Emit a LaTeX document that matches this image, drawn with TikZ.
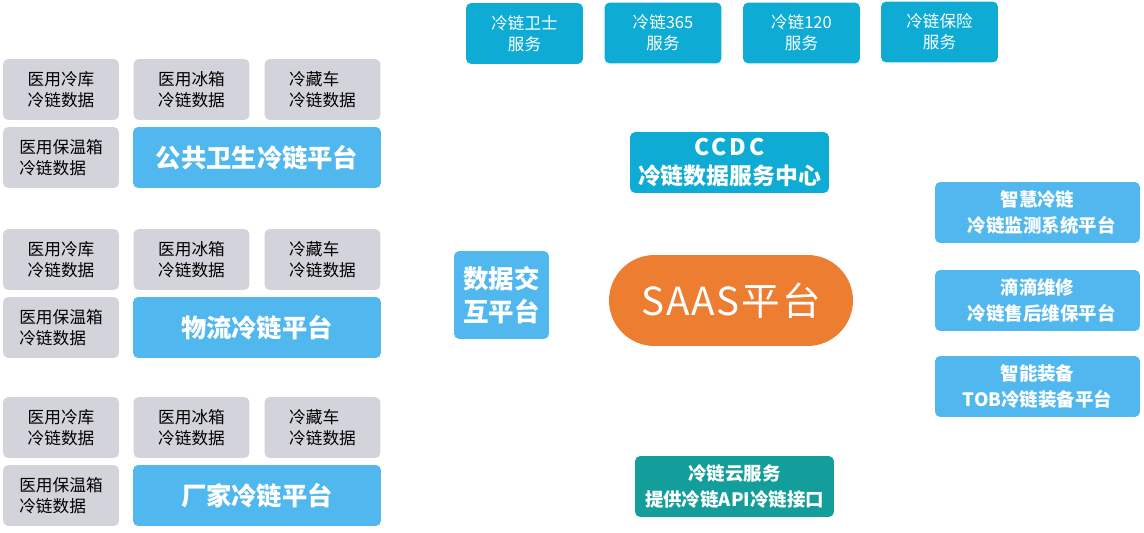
\documentclass[tikz,border=0pt]{standalone}
\usepackage{fontspec}
\setmainfont{Noto Sans CJK SC}
\definecolor{datagrey}{HTML}{D3D3DB}
\definecolor{platblue}{HTML}{50B8EE}
\definecolor{servcyan}{HTML}{0EACD4}
\definecolor{cloudteal}{HTML}{139E9B}
\definecolor{saasorange}{HTML}{ED7D31}
\begin{document}
\begin{tikzpicture}[x=0.02cm, y=-0.02cm]
    \tikzset{box/.style={rectangle, rounded corners=3pt, inner sep=0pt, align=center}}
    \tikzset{data/.style={box, fill=datagrey, text=black, align=left, font=\fontsize{9.5}{12}\selectfont,
        minimum width=2.32cm, minimum height=1.22cm}}
    \tikzset{plat/.style={box, fill=platblue, text=white, font=\fontsize{14.4}{17}\selectfont\bfseries,
        minimum width=4.96cm, minimum height=1.22cm}}
    \tikzset{serv/.style={box, fill=servcyan, text=white, font=\fontsize{9.4}{12}\selectfont,
        minimum width=2.34cm, minimum height=1.22cm}}
    \tikzset{side/.style={box, fill=platblue, text=white, font=\fontsize{10.5}{15}\selectfont\bfseries,
        minimum width=4.1cm, minimum height=1.22cm}}
    \useasboundingbox (0, 0) rectangle (1144, 533);
    % public health group
    \node[data] (ph1) at (61, 89.5) {医用冷库\\冷链数据};
    \node[data] (ph2) at (191.5, 89.5) {医用冰箱\\冷链数据};
    \node[data] (ph3) at (322.5, 89.5) {冷藏车\\冷链数据};
    \node[data] (ph4) at (61, 157.5) {医用保温箱\\冷链数据};
    \node[plat] (phplat) at (257, 157.5) {公共卫生冷链平台};
    % logistics group
    \node[data] (lg1) at (61, 259.5) {医用冷库\\冷链数据};
    \node[data] (lg2) at (191.5, 259.5) {医用冰箱\\冷链数据};
    \node[data] (lg3) at (322.5, 259.5) {冷藏车\\冷链数据};
    \node[data] (lg4) at (61, 327.5) {医用保温箱\\冷链数据};
    \node[plat] (lgplat) at (257, 327.5) {物流冷链平台};
    % manufacturer group
    \node[data] (mf1) at (61, 427.5) {医用冷库\\冷链数据};
    \node[data] (mf2) at (191.5, 427.5) {医用冰箱\\冷链数据};
    \node[data] (mf3) at (322.5, 427.5) {冷藏车\\冷链数据};
    \node[data] (mf4) at (61, 495.5) {医用保温箱\\冷链数据};
    \node[plat] (mfplat) at (257, 495.5) {厂家冷链平台};
    % services
    \node[serv] (sv1) at (524.5, 33.5) {冷链卫士\\服务};
    \node[serv] (sv2) at (663, 33) {冷链365\\服务};
    \node[serv] (sv3) at (801.5, 33) {冷链120\\服务};
    \node[serv] (sv4) at (939.5, 32) {冷链保险\\服务};
    \node[box, fill=servcyan, text=white, font=\fontsize{13}{16}\selectfont\bfseries,
        minimum width=3.98cm, minimum height=1.22cm] (ccdc) at (729.5, 162.5) {\addfontfeature{LetterSpace=12}CCDC\\冷链数据服务中心};
    % centre
    \node[box, fill=platblue, text=white, font=\fontsize{14.5}{19}\selectfont\bfseries,
        minimum width=1.9cm, minimum height=1.76cm] (xchg) at (501.5, 295) {数据交\\互平台};
    \node[box, fill=saasorange, text=white, rounded corners=0.91cm, font=\fontsize{22}{25}\selectfont,
        minimum width=4.88cm, minimum height=1.82cm] (saas) at (731, 300.5) {\addfontfeature{LetterSpace=5}SAAS平台};
    % right side
    \node[side] (smart) at (1037.5, 212.5) {智慧冷链\\~~冷链监测系统平台};
    \node[side] (repair) at (1037.5, 300.5) {滴滴维修\\~~冷链售后维保平台};
    \node[side] (equip) at (1037.5, 386.5) {智能装备\\TOB冷链装备平台};
    \node[box, fill=cloudteal, text=white, font=\fontsize{10.5}{15}\selectfont\bfseries,
        minimum width=3.98cm, minimum height=1.22cm] (cloud) at (734.5, 486.5) {冷链云服务\\提供冷链API冷链接口};
\end{tikzpicture}
\end{document}
